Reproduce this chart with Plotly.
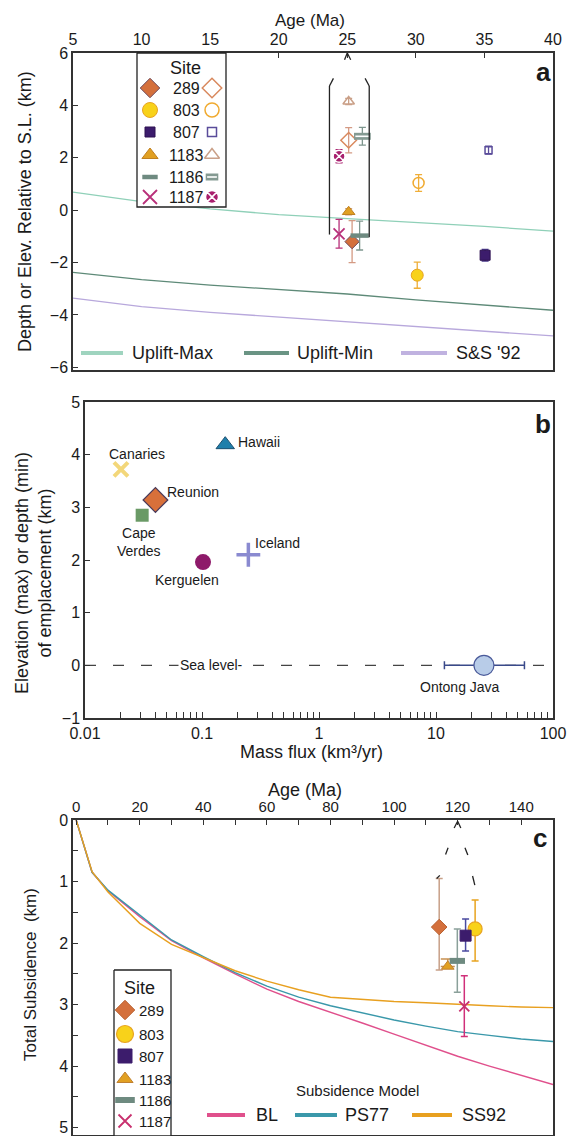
import math
import plotly.graph_objects as go

W, H = 577, 1136
OFF = 8  # the page body margin that the browser adds round the figure

# ------------------------------------------------------------------ data
sites = ["289", "803", "807", "1183", "1186", "1187"]

# Panel a : age (Ma) vs depth (filled) / elevation (open) relative to sea level (km)
a_age_filled = [25.35, 30.1, 35.05, 25.1, 25.9, 24.4]
a_val_filled = [-1.2, -2.48, -1.72, -0.06, -0.97, -0.9]
a_err_filled = [0.8, 0.5, 0.22, 0.12, 0.55, 0.55]
a_age_open = [25.1, 30.2, 35.3, 25.1, 26.1, 24.4]
a_val_open = [2.67, 1.04, 2.29, 4.15, 2.82, 2.06]
a_err_open = [0.48, 0.32, 0.15, 0.12, 0.34, 0.25]

a_curve_age = [5, 10, 15, 20, 25, 30, 35, 40]
uplift_max = [0.69, 0.33, 0.05, -0.17, -0.32, -0.47, -0.62, -0.8]
uplift_min = [-2.37, -2.65, -2.86, -3.03, -3.2, -3.42, -3.62, -3.82]
ss92_a = [-3.36, -3.68, -3.9, -4.08, -4.24, -4.42, -4.62, -4.8]
a_xticks = [5, 10, 15, 20, 25, 30, 35, 40]
a_yticks = [-6, -4, -2, 0, 2, 4, 6]

# Panel b : mass flux (km3/yr) vs elevation/depth of emplacement (km)
b_names = ["Canaries", "Hawaii", "Reunion", "Cape Verdes", "Kerguelen", "Iceland", "Ontong Java"]
b_flux = [0.0203, 0.158, 0.040, 0.0308, 0.102, 0.249, 25.7]
b_elev = [3.72, 4.19, 3.14, 2.85, 1.96, 2.10, 0.0]
ontong_flux_lo, ontong_flux_hi = 11.8, 57.0
sea_level = 0.0
b_ydticks = [-1, 0, 1, 2, 3, 4, 5]

# Panel c : age (Ma) vs total subsidence (km)
c_age = [114.2, 125.5, 122.5, 116.9, 119.9, 122.1]
c_depth = [1.74, 1.77, 1.88, 2.38, 2.29, 3.03]
c_err_deeper = [0.70, 0.52, 0.25, 0.0, 0.51, 0.49]
c_err_shallower = [0.79, 0.47, 0.27, 0.12, 0.52, 0.50]

c_model_age = [0, 5, 10, 20, 30, 40, 50, 60, 70, 80, 90, 100, 110, 120, 130, 140, 150]
bl = [0, 0.85, 1.15, 1.57, 1.96, 2.24, 2.5, 2.75, 2.95, 3.12, 3.3, 3.48, 3.66, 3.84, 4.0, 4.15, 4.3]
ps77 = [0, 0.85, 1.14, 1.55, 1.95, 2.22, 2.48, 2.7, 2.88, 3.02, 3.14, 3.25, 3.35, 3.44, 3.5, 3.56, 3.6]
ss92 = [0, 0.84, 1.17, 1.68, 2.02, 2.24, 2.45, 2.62, 2.76, 2.88, 2.92, 2.95, 2.97, 3.0, 3.02, 3.04, 3.05]

# ------------------------------------------------------------------ styles
FONT = "Arial, Liberation Sans, Helvetica, sans-serif"
AX = "#333333"
TXT = "#1a1a1a"

STY = {
    "289": dict(sym="diamond", size=11, fill="#d4703c", edge="#6e4a5a", lw=1, err="#d49a84",
                osym="diamond-open", osize=12, oedge="#d9895e", olw=1.5, oerr="#d49a84",
                lsize=15, losize=15),
    "803": dict(sym="circle", size=12, fill="#f8d21a", edge="#e8a422", lw=1, err="#eeae38",
                osym="circle-open", osize=11, oedge="#f0aa30", olw=1.5, oerr="#f0ae38",
                lsize=15, losize=14),
    "807": dict(sym="square", size=10, fill="#3c1c6c", edge="#2c1050", lw=1, err="#4a3a8a",
                osym="square-open", osize=7, oedge="#5a4c9a", olw=1.5, oerr="#5a4c9a",
                lsize=10, losize=9),
    "1183": dict(sym="triangle-up", size=11, fill="#e1a022", edge="#c08020", lw=1, err="#cfa078",
                 osym="triangle-up-open", osize=10, oedge="#caa088", olw=1.5, oerr="#caa088",
                 lsize=14, losize=13),
    "1186": dict(sym="line-ew", size=13, fill="#6e8a80", edge="#6e8a80", lw=4.5, err="#7e968e",
                 osym="line-ew", osize=12, oedge="#849a92", olw=7, oerr="#7e968e",
                 lsize=11, losize=9),
    "1187": dict(sym="x-thin", size=11, fill="#b8307a", edge="#b8307a", lw=1.8, err="#b8307a",
                 osym="circle-x", osize=12, oedge="#ffffff", olw=1.5, oerr="#a8206e",
                 ofill="#a8206e", lsize=14, losize=13),
}
C_ERR = {"289": "#c8a088", "803": "#e8a420", "807": "#4a4aa0", "1183": "#c89050",
         "1186": "#8aa09a", "1187": "#d0307a"}

# pixel geometry of the three panels in page pixels (layout only)
PA = dict(x0=73, x1=553, y0=53, y1=370)
PB = dict(x0=85, x1=553, y0=402, y1=718)
PC = dict(x0=73, x1=553, y0=820, y1=1135)


def dom_x(p):
    return [(p["x0"] - OFF) / W, (p["x1"] - OFF) / W]


def dom_y(p):
    return [1 - (p["y1"] - OFF) / H, 1 - (p["y0"] - OFF) / H]


fig = go.Figure()

# ------------------------------------------------------------------ panel a
for name, ys, col in [("Uplift-Max", uplift_max, "#8fd0b8"),
                      ("Uplift-Min", uplift_min, "#5e8a78"),
                      ("S&S '92", ss92_a, "#b8a8dc")]:
    fig.add_trace(go.Scatter(x=a_curve_age, y=ys, mode="lines", line=dict(color=col, width=1.3),
                             xaxis="x", yaxis="y", showlegend=False, hoverinfo="skip"))

for i, s in enumerate(sites):
    st = STY[s]
    fig.add_trace(go.Scatter(
        x=[a_age_filled[i]], y=[a_val_filled[i]], mode="markers",
        error_y=dict(type="data", array=[a_err_filled[i]], color=st["err"], thickness=1.3, width=3.5),
        marker=dict(symbol=st["sym"], size=st["size"], color=st["fill"],
                    line=dict(color=st["edge"], width=st["lw"])),
        xaxis="x", yaxis="y", showlegend=False, hoverinfo="skip"))
    fig.add_trace(go.Scatter(
        x=[a_age_open[i]], y=[a_val_open[i]], mode="markers",
        error_y=dict(type="data", array=[a_err_open[i]], color=st["oerr"], thickness=1.3, width=3.5),
        marker=dict(symbol=st["osym"], size=st["osize"], color=st.get("ofill", st["oedge"]),
                    line=dict(color=st["oedge"], width=st["olw"])),
        xaxis="x", yaxis="y", showlegend=False, hoverinfo="skip"))
    if s == "1186":
        fig.add_trace(go.Scatter(
            x=[a_age_open[i]], y=[a_val_open[i]], mode="markers",
            marker=dict(symbol="line-ew", size=10, line=dict(color="white", width=1.6)),
            xaxis="x", yaxis="y", showlegend=False, hoverinfo="skip"))

# ------------------------------------------------------------------ panel b
B_STY = {
    "Canaries": dict(symbol="x-thin", size=14, color="#f3d77a", line=dict(color="#f3d77a", width=4)),
    "Hawaii": dict(symbol="triangle-up", size=16, color="#1f7fab", line=dict(color="#1b4f70", width=1)),
    "Reunion": dict(symbol="diamond", size=19, color="#d8703a", line=dict(color="#4a3a5a", width=1.2)),
    "Cape Verdes": dict(symbol="square", size=13, color="#6a9a66", line=dict(color="#6a9a66", width=0)),
    "Kerguelen": dict(symbol="circle", size=16, color="#8e1a6a", line=dict(color="#8e1a6a", width=0)),
    "Iceland": dict(symbol="cross-thin", size=17, color="#8a8ad0", line=dict(color="#8a8ad0", width=3.5)),
    "Ontong Java": dict(symbol="circle", size=20, color="#b8cce8", line=dict(color="#4a5a9a", width=1.2)),
}
for n, f, e in zip(b_names, b_flux, b_elev):
    err = None
    if n == "Ontong Java":
        err = dict(type="data", symmetric=False, array=[ontong_flux_hi - f],
                   arrayminus=[f - ontong_flux_lo], color="#3a4a8a", thickness=1.5, width=4)
    fig.add_trace(go.Scatter(x=[f], y=[e], mode="markers", marker=B_STY[n], error_x=err,
                             xaxis="x2", yaxis="y2", showlegend=False, hoverinfo="skip"))

B_LABEL = {  # offsets of the labels from their points, in pixels
    "Canaries": dict(xs=16, ys=15, xa="center", text="Canaries"),
    "Hawaii": dict(xs=11, ys=3, xa="left", text="Hawaii"),
    "Reunion": dict(xs=10, ys=8, xa="left", text="Reunion"),
    "Cape Verdes": dict(xs=-3, ys=-27, xa="center", text="Cape<br>Verdes"),
    "Kerguelen": dict(xs=-16, ys=-18, xa="center", text="Kerguelen"),
    "Iceland": dict(xs=5, ys=12, xa="left", text="Iceland"),
    "Ontong Java": dict(xs=-24, ys=-22, xa="center", text="Ontong Java"),
}
annotations = []
for n, f, e in zip(b_names, b_flux, b_elev):
    L = B_LABEL[n]
    annotations.append(dict(x=math.log10(f), y=e, xref="x2", yref="y2", text=L["text"],
                            showarrow=False, xanchor=L["xa"], yanchor="middle",
                            xshift=L["xs"], yshift=L["ys"],
                            font=dict(family=FONT, size=14, color=TXT)))
annotations.append(dict(x=math.log10(0.12), y=sea_level, xref="x2", yref="y2", text="Sea level-",
                        showarrow=False, xanchor="center", yanchor="middle", bgcolor="white",
                        font=dict(family=FONT, size=14, color=TXT)))

# ------------------------------------------------------------------ panel c
for ys, col in [(bl, "#e0508c"), (ps77, "#3a98aa"), (ss92, "#e8a020")]:
    fig.add_trace(go.Scatter(x=c_model_age, y=ys, mode="lines", line=dict(color=col, width=1.4),
                             xaxis="x3", yaxis="y3", showlegend=False, hoverinfo="skip"))

C_MK = {
    "289": dict(symbol="diamond", size=12, color="#d4703c", line=dict(color="#b86030", width=1)),
    "803": dict(symbol="circle", size=14, color="#f8d21a", line=dict(color="#e8a422", width=1.2)),
    "807": dict(symbol="square", size=11, color="#3c1c6c", line=dict(color="#3c1c6c", width=1)),
    "1183": dict(symbol="triangle-up", size=11, color="#e1a022", line=dict(color="#c08030", width=1)),
    "1186": dict(symbol="line-ew", size=11, color="#6e8a80", line=dict(color="#6e8a80", width=6)),
    "1187": dict(symbol="x-thin", size=10, color="#c8306e", line=dict(color="#c8306e", width=1.8)),
}
for i, s in enumerate(sites):
    fig.add_trace(go.Scatter(
        x=[c_age[i]], y=[c_depth[i]], mode="markers",
        error_y=dict(type="data", symmetric=False, array=[c_err_deeper[i]],
                     arrayminus=[c_err_shallower[i]], color=C_ERR[s], thickness=1.5,
                     width=7 if s == "1183" else 3.5),
        marker=C_MK[s], xaxis="x3", yaxis="y3", showlegend=False, hoverinfo="skip"))

# ------------------------------------------------------------------ legends / decorations (page-pixel overlay)
def px_marker(x, y, **m):
    fig.add_trace(go.Scatter(x=[x], y=[y], mode="markers", marker=m, xaxis="x4", yaxis="y4",
                             showlegend=False, hoverinfo="skip"))


def px_box(x0, y0, x1, y1):
    fig.add_trace(go.Scatter(x=[x0, x1, x1, x0, x0], y=[y0, y0, y1, y1, y0], mode="lines",
                             fill="toself", fillcolor="white", line=dict(color="#222", width=1.3),
                             xaxis="x4", yaxis="y4", showlegend=False, hoverinfo="skip"))


def px_text(x, y, text, size, xa="center", bold=False):
    annotations.append(dict(x=x, y=y, xref="x4", yref="y4", text=f"<b>{text}</b>" if bold else text,
                            showarrow=False, xanchor=xa, yanchor="middle",
                            font=dict(family=FONT, size=size, color=TXT)))


shapes = []


def px_line(x0, y0, x1, y1, color, width):
    shapes.append(dict(type="line", x0=x0, y0=y0, x1=x1, y1=y1, xref="x4", yref="y4",
                       line=dict(color=color, width=width)))


# panel a site legend
px_box(137, 53, 226, 207)
px_text(185, 68, "Site", 18)
rows_a = [88, 110, 132, 155, 177, 197]
for s, yy in zip(sites, rows_a):
    st = STY[s]
    px_marker(150, yy, symbol=st["sym"], size=st["lsize"], color=st["fill"],
              line=dict(color=st["edge"], width=st["lw"]))
    px_text(186, yy, s, 16)
    px_marker(212, yy, symbol=st["osym"], size=st["losize"], color=st.get("ofill", st["oedge"]),
              line=dict(color=st["oedge"], width=st["olw"]))
    if s == "1186":
        px_marker(212, yy, symbol="line-ew", size=7, line=dict(color="white", width=1.6))

# panel a curve legend
for x0, x1, tx, name, col in [(81, 123, 130, "Uplift-Max", "#9fd4bf"),
                              (244, 289, 295, "Uplift-Min", "#6a9484"),
                              (401, 447, 454, "S&S '92", "#c0b2e0")]:
    px_line(x0, 353, x1, 353, col, 4)
    px_text(tx, 353, name, 18, xa="left")

# panel c site legend
px_box(114, 970, 171, 1136)
px_text(139, 988, "Site", 18)
rows_c = [1010, 1034, 1056, 1079, 1100, 1121]
for s, yy in zip(sites, rows_c):
    m = dict(C_MK[s])
    m["size"] = m["size"] + 3
    px_marker(125, yy, **m)
    px_text(137, yy, s, 15, xa="left")

# panel c model legend
px_text(357, 1090, "Subsidence Model", 15)
for x0, x1, tx, name, col in [(207, 245, 254, "BL", "#e0508c"),
                              (295, 337, 343, "PS77", "#3a98aa"),
                              (412, 452, 460, "SS92", "#e8a020")]:
    px_line(x0, 1115, x1, 1115, col, 4)
    px_text(tx, 1115, name, 18, xa="left")

# panel letters
px_text(543, 72, "a", 26, bold=True)
px_text(543, 424, "b", 26, bold=True)
px_text(540, 838, "c", 26, bold=True)

# axis titles
px_text(310, 20, "Age (Ma)", 17)
px_text(311, 752, "Mass flux (km³/yr)", 18)
px_text(305, 790, "Age (Ma)", 18)
annotations.append(dict(x=25, y=212, xref="x4", yref="y4", text="Depth or Elev. Relative to S.L. (km)",
                        textangle=-90, showarrow=False, font=dict(family=FONT, size=18, color=TXT)))
annotations.append(dict(x=33, y=573, xref="x4", yref="y4",
                        text="Elevation (max) or depth (min)<br>of emplacement (km)",
                        textangle=-90, showarrow=False, font=dict(family=FONT, size=18, color=TXT)))
annotations.append(dict(x=30, y=975, xref="x4", yref="y4", text="Total Subsidence  (km)",
                        textangle=-90, showarrow=False, font=dict(family=FONT, size=17, color=TXT)))

# bracket and caret in panel a (data coords)
for (x0, y0, x1, y1) in [(23.7, 4.74, 23.7, -0.93), (26.6, 4.74, 26.6, -1.03),
                         (23.7, 4.74, 23.99, 5.03), (26.3, 5.03, 26.6, 4.74),
                         (24.8, 5.74, 25.0, 6.0), (25.0, 6.0, 25.25, 5.74)]:
    shapes.append(dict(type="line", x0=x0, y0=y0, x1=x1, y1=y1, xref="x", yref="y",
                       line=dict(color="#222", width=1.3)))
# sea level dashed line in panel b
shapes.append(dict(type="line", x0=0, x1=1, y0=sea_level, y1=sea_level, xref="x2 domain", yref="y2",
                   line=dict(color="#444", width=1.3, dash="11px,17px"), layer="below"))
# dashed bracket and caret in panel c
for (x0, y0, x1, y1) in [(116.2, 0.56, 117.0, 0.45), (122.3, 0.45, 123.2, 0.57),
                         (113.4, 0.95, 114.4, 0.90), (124.7, 0.91, 125.4, 1.06),
                         (118.9, 0.13, 120.0, 0.02), (120.0, 0.02, 121.0, 0.13)]:
    shapes.append(dict(type="line", x0=x0, y0=y0, x1=x1, y1=y1, xref="x3", yref="y3",
                       line=dict(color="#222", width=1.3)))

# ------------------------------------------------------------------ axes
base = dict(showline=True, linecolor=AX, linewidth=1.5, mirror=True, showgrid=False, zeroline=False,
            ticks="inside", tickcolor=AX, ticklen=5, tickwidth=1.2, automargin=False,
            tickfont=dict(family=FONT, size=16, color=TXT))

b_tickvals = [m * 10 ** e for e in range(-2, 2) for m in range(1, 10)] + [100]
b_ticktext = [("%g" % v) if abs(math.log10(v) - round(math.log10(v))) < 1e-9 else "" for v in b_tickvals]
c_xtickvals = list(range(0, 150, 10))
c_xticktext = [str(v) if v % 20 == 0 else "" for v in c_xtickvals]
c_ytickvals = [v / 2 for v in range(0, 11)]
c_yticktext = [str(int(v)) if v == int(v) else "" for v in c_ytickvals]

fig.update_layout(
    template="none",
    width=W, height=H, margin=dict(l=0, r=0, t=0, b=0, pad=0, autoexpand=False), autosize=False,
    paper_bgcolor="white", plot_bgcolor="rgba(0,0,0,0)", showlegend=False,
    xaxis=dict(base, domain=dom_x(PA), range=[5, 40], side="top", tickvals=a_xticks, anchor="y"),
    yaxis=dict(base, domain=dom_y(PA), range=[-6.1, 6], tickvals=a_yticks, anchor="x"),
    xaxis2=dict(base, domain=dom_x(PB), type="log", range=[-2, 2], tickvals=b_tickvals,
                ticktext=b_ticktext, anchor="y2", ticklen=6),
    yaxis2=dict(base, domain=dom_y(PB), range=[-1, 5], tickvals=b_ydticks, anchor="x2"),
    xaxis3=dict(base, domain=dom_x(PC), range=[-1, 150], side="top", tickvals=c_xtickvals,
                ticktext=c_xticktext, anchor="y3", tickfont=dict(family=FONT, size=15, color=TXT)),
    yaxis3=dict(base, domain=dom_y(PC), range=[5.12, 0], tickvals=c_ytickvals, ticktext=c_yticktext,
                anchor="x3", tickfont=dict(family=FONT, size=16, color=TXT)),
    # overlay axis in page pixels, used only to place legends, titles and letters
    xaxis4=dict(domain=[0, 1], range=[OFF, W + OFF], visible=False, anchor="y4", fixedrange=True,
                automargin=False),
    yaxis4=dict(domain=[0, 1], range=[H + OFF, OFF], visible=False, anchor="x4", fixedrange=True,
                automargin=False),
    annotations=annotations, shapes=shapes,
)

fig.write_html("out.html")
